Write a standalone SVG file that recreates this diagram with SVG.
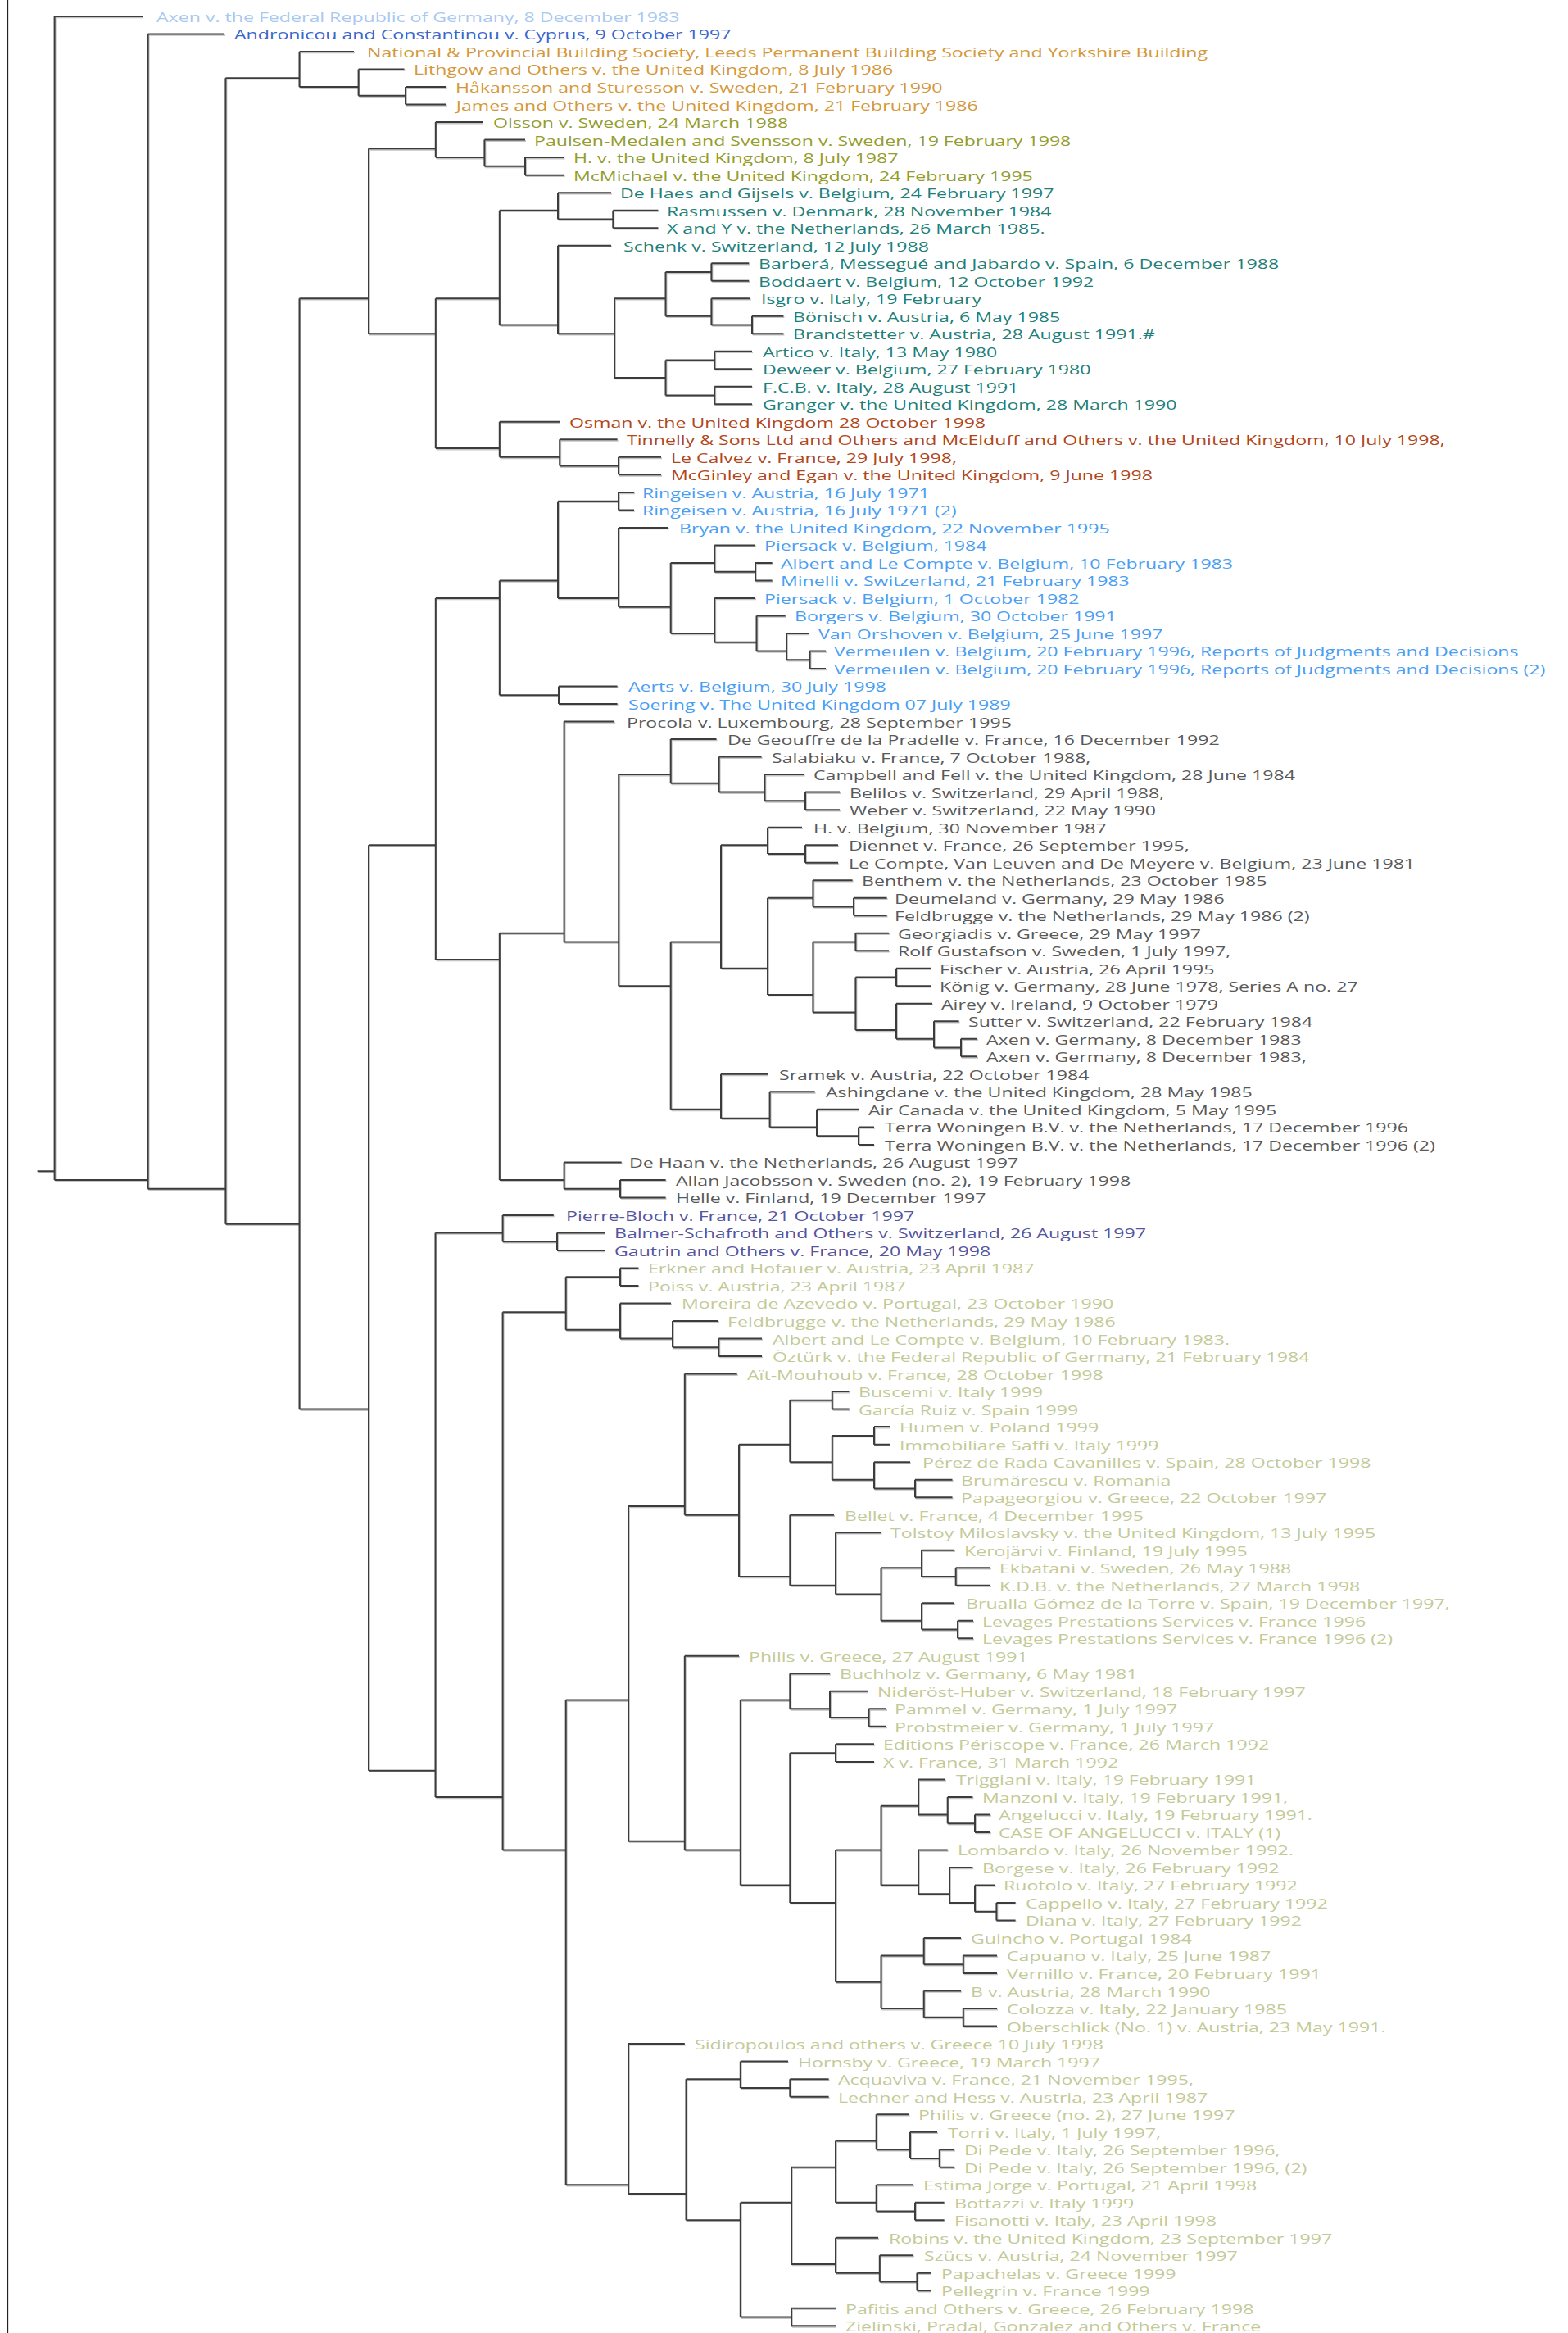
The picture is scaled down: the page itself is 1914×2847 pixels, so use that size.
<svg xmlns="http://www.w3.org/2000/svg" xmlns:xlink="http://www.w3.org/1999/xlink" width="1914" height="2847" viewBox="0 0 1914 2847">
<style>
text{font-family:"Open Sans","Noto Sans","Liberation Sans",sans-serif;font-size:16px;transform:scaleX(1.447);transform-box:fill-box;transform-origin:0 50%}
.e path{fill:none;vector-effect:non-scaling-stroke;stroke-width:2}
.lb{fill:#a9c9f0}.bl{fill:#3b66cc}.or{fill:#d4983a}.ol{fill:#949c2c}.te{fill:#1f7f7a}.rd{fill:#b1461b}.sk{fill:#4a9ef2}.gr{fill:#595959}.pu{fill:#55559e}.lo{fill:#c3ca98}
</style>
<rect width="1914" height="2847" fill="#fff"/>
<line x1="9.5" y1="0" x2="9.5" y2="2847" stroke="#222" stroke-width="1.3"/>
<use xlink:href="#edges" href="#edges" transform="translate(1,1.3)" stroke="#c4c4c4"/>
<g id="connectors" stroke="#3c3c3c">
<g id="edges" class="e" transform="translate(0,20) scale(1,21.514)">
<path d="M45.6,65.5H66.6M66.6,0V66M66.6,0H174M66.6,66H180.6"/>
<path d="M180.6,1V66.5M180.6,1H274M180.6,66.5H275.4"/>
<path d="M275.4,3.5V68.5M275.4,3.5H365.5M275.4,68.5H365.5"/>
<path d="M365.5,2V4M365.5,2H432M365.5,4H437.6"/>
<path d="M437.6,3V4.5M437.6,3H493.5M437.6,4.5H495"/>
<path d="M495,4V5M495,4H544.8M495,5H544.8"/>
<path d="M365.5,16V79M365.5,16H450M365.5,79H450"/>
<path d="M450,7.5V18M450,7.5H531.8M450,18H531.8"/>
<path d="M531.8,6V8M531.8,6H589M531.8,8H591.4"/>
<path d="M591.4,7V8.5M591.4,7H641M591.4,8.5H641"/>
<path d="M641,8V9M641,8H688.6M641,9H688.6"/>
<path d="M531.8,16V24.5M531.8,16H609.8M531.8,24.5H609.8"/>
<path d="M609.8,11V17.5M609.8,11H681M609.8,17.5H681"/>
<path d="M681,10V11.5M681,10H746M681,11.5H748.3"/>
<path d="M748.3,11V12M748.3,11H803.4M748.3,12H803.4"/>
<path d="M681,13V18M681,13H746M681,18H750"/>
<path d="M750,16V20.5M750,16H812.5M750,20.5H812.5"/>
<path d="M812.5,14.5V17M812.5,14.5H868.4M812.5,17H868.4"/>
<path d="M868.4,14V15M868.4,14H914.3M868.4,15H914.3"/>
<path d="M868.4,16V17.5M868.4,16H915.8M868.4,17.5H918"/>
<path d="M918,17V18M918,17H956.4M918,18H956.4"/>
<path d="M812.5,19.5V21.5M812.5,19.5H872.2M812.5,21.5H872.2"/>
<path d="M872.2,19V20M872.2,19H918M872.2,20H918"/>
<path d="M872.2,21V22M872.2,21H918M872.2,22H918"/>
<path d="M609.8,23V25M609.8,23H683M609.8,25H683.2"/>
<path d="M683.2,24V25.5M683.2,24H753.6M683.2,25.5H755"/>
<path d="M755,25V26M755,25H807M755,26H807"/>
<path d="M450,47V99.5M450,47H531.8M450,99.5H531.8"/>
<path d="M531.8,33V53.5M531.8,33H609.8M531.8,53.5H609.8"/>
<path d="M609.8,32V38.5M609.8,32H681M609.8,38.5H682"/>
<path d="M682,38V39M682,38H753.6M682,39H753.6"/>
<path d="M681,27.5V33M681,27.5H755M681,33H755"/>
<path d="M755,27V28M755,27H774M755,28H774"/>
<path d="M755,29V33.5M755,29H816M755,33.5H818.7"/>
<path d="M818.7,31V35M818.7,31H872.2M818.7,35H872.2"/>
<path d="M872.2,30V31.5M872.2,30H922M872.2,31.5H922"/>
<path d="M922,31V32M922,31H942.6M922,32H942.6"/>
<path d="M872.2,33V35.5M872.2,33H922M872.2,35.5H923.5"/>
<path d="M923.5,34V36M923.5,34H958.7M923.5,36H960"/>
<path d="M960,35V36.5M960,35H987M960,36.5H988.5"/>
<path d="M988.5,36V37M988.5,36H1008M988.5,37H1008"/>
<path d="M609.8,52V66M609.8,52H688.6M609.8,66H688.6"/>
<path d="M688.6,65V66.5M688.6,65H758.7M688.6,66.5H757"/>
<path d="M757,66V67M757,66H812.6M757,67H812.6"/>
<path d="M688.6,40V52.5M688.6,40H750M688.6,52.5H755.2"/>
<path d="M755.2,43V55M755.2,43H818.7M755.2,55H818.7"/>
<path d="M818.7,41V43.5M818.7,41H874.5M818.7,43.5H877.6"/>
<path d="M877.6,42V44M877.6,42H929.6M877.6,44H933.4"/>
<path d="M933.4,43V44.5M933.4,43H981.6M933.4,44.5H983"/>
<path d="M983,44V45M983,44H1025M983,45H1025"/>
<path d="M818.7,52.5V62M818.7,52.5H880M818.7,62H880"/>
<path d="M880,47V54M880,47H937M880,54H937"/>
<path d="M937,46V47.5M937,46H979M937,47.5H983"/>
<path d="M983,47V48M983,47H1023M983,48H1023"/>
<path d="M937,50V55.5M937,50H992.4M937,55.5H992.4"/>
<path d="M992.4,49V50.5M992.4,49H1040.6M992.4,50.5H1042"/>
<path d="M1042,50V51M1042,50H1082.6M1042,51H1082.6"/>
<path d="M992.4,52.5V56.5M992.4,52.5H1044.4M992.4,56.5H1044.4"/>
<path d="M1044.4,52V53M1044.4,52H1085M1044.4,53H1085"/>
<path d="M1044.4,54.5V57.5M1044.4,54.5H1094M1044.4,57.5H1094"/>
<path d="M1094,54V55M1094,54H1136M1094,55H1136"/>
<path d="M1094,56V58M1094,56H1138M1094,58H1140"/>
<path d="M1140,57V58.5M1140,57H1170.6M1140,58.5H1173"/>
<path d="M1173,58V59M1173,58H1193M1173,59H1193"/>
<path d="M880,60V62.5M880,60H937M880,62.5H939.6"/>
<path d="M939.6,61V63M939.6,61H994.6M939.6,63H997"/>
<path d="M997,62V63.5M997,62H1048M997,63.5H1048"/>
<path d="M1048,63V64M1048,63H1067M1048,64H1067"/>
<path d="M531.5,69V101M531.5,69H613.6M531.5,101H613.6"/>
<path d="M613.6,68V69.5M613.6,68H675.8M613.6,69.5H680"/>
<path d="M680,69V70M680,69H738M680,70H738"/>
<path d="M613.6,73.5V104M613.6,73.5H690.7M613.6,104H690.7"/>
<path d="M690.7,71.5V74.5M690.7,71.5H757M690.7,74.5H757"/>
<path d="M757,71V72M757,71H779.4M757,72H779.4"/>
<path d="M757,73V75M757,73H819M757,75H821"/>
<path d="M821,74V75.5M821,74H877M821,75.5H877.3"/>
<path d="M877.3,75V76M877.3,75H930M877.3,76H930"/>
<path d="M690.7,95.5V123M690.7,95.5H767M690.7,123H767"/>
<path d="M767,84.5V103.5M767,84.5H835.8M767,103.5H835.8"/>
<path d="M835.8,77V85M835.8,77H899.7M835.8,85H902"/>
<path d="M902,81V88.5M902,81H964.3M902,88.5H964.3"/>
<path d="M964.3,78.5V82M964.3,78.5H1015.8M964.3,82H1015.8"/>
<path d="M1015.8,78V79M1015.8,78H1036.5M1015.8,79H1036.5"/>
<path d="M1015.8,80.5V83M1015.8,80.5H1067M1015.8,83H1067"/>
<path d="M1067,80V81M1067,80H1086M1067,81H1086"/>
<path d="M1067,82V83.5M1067,82H1111M1067,83.5H1117"/>
<path d="M1117,83V84M1117,83H1162.5M1117,84H1162.5"/>
<path d="M964.3,85V89M964.3,85H1018M964.3,89H1020"/>
<path d="M1020,86V89.5M1020,86H1075.5M1020,89.5H1075.5"/>
<path d="M1075.5,88V91M1075.5,88H1125M1075.5,91H1125"/>
<path d="M1125,87V88.5M1125,87H1165M1125,88.5H1166.7"/>
<path d="M1166.7,88V89M1166.7,88H1209M1166.7,89H1209"/>
<path d="M1125,90V91.5M1125,90H1165M1125,91.5H1169"/>
<path d="M1169,91V92M1169,91H1188M1169,92H1188"/>
<path d="M835.8,93V104M835.8,93H902M835.8,104H903.8"/>
<path d="M903.8,95.5V106M903.8,95.5H964.3M903.8,106H964.3"/>
<path d="M964.3,94V96M964.3,94H1013M964.3,96H1013"/>
<path d="M1013,95V96.5M1013,95H1059M1013,96.5H1060.5"/>
<path d="M1060.5,96V97M1060.5,96H1082M1060.5,97H1082"/>
<path d="M964.3,98.5V107M964.3,98.5H1020M964.3,107H1020"/>
<path d="M1020,98V99M1020,98H1067M1020,99H1067"/>
<path d="M1020,104V111.5M1020,104H1075.5M1020,111.5H1075.5"/>
<path d="M1075.5,101.5V106M1075.5,101.5H1121M1075.5,106H1121"/>
<path d="M1121,100V102M1121,100H1154M1121,102H1156.7"/>
<path d="M1156.7,101V102.5M1156.7,101H1187.4M1156.7,102.5H1190"/>
<path d="M1190,102V103M1190,102H1209M1190,103H1209"/>
<path d="M1121,104V106.5M1121,104H1156.7M1121,106.5H1159"/>
<path d="M1159,105V107M1159,105H1187.4M1159,107H1190"/>
<path d="M1190,106V107.5M1190,106H1214.8M1190,107.5H1216.4"/>
<path d="M1216.4,107V108M1216.4,107H1239.6M1216.4,108H1239.6"/>
<path d="M1075.5,110V113M1075.5,110H1127.7M1075.5,113H1127.7"/>
<path d="M1127.7,109V110.5M1127.7,109H1173M1127.7,110.5H1175.8"/>
<path d="M1175.8,110V111M1175.8,110H1217M1175.8,111H1217"/>
<path d="M1127.7,112V113.5M1127.7,112H1173M1127.7,113.5H1175.8"/>
<path d="M1175.8,113V114M1175.8,113H1217M1175.8,114H1217"/>
<path d="M767,115V123.5M767,115H835.8M767,123.5H837.5"/>
<path d="M837.5,117V125M837.5,117H903.8M837.5,125H903.8"/>
<path d="M903.8,116V117.5M903.8,116H962M903.8,117.5H964.3"/>
<path d="M964.3,117V118M964.3,117H1011.6M964.3,118H1011.6"/>
<path d="M903.8,124V130.5M903.8,124H966M903.8,130.5H966"/>
<path d="M966,130V131M966,130H1020M966,131H1020"/>
<path d="M966,122V127.5M966,122H1020M966,127.5H1020"/>
<path d="M1020,120.5V124M1020,120.5H1069.7M1020,124H1069.7"/>
<path d="M1069.7,119V121M1069.7,119H1109.5M1069.7,121H1111"/>
<path d="M1111,120V121.5M1111,120H1144M1111,121.5H1146.8"/>
<path d="M1146.8,121V122M1146.8,121H1165M1146.8,122H1165"/>
<path d="M1069.7,123V124.5M1069.7,123H1115M1069.7,124.5H1117"/>
<path d="M1117,124V125M1117,124H1152.6M1117,125H1152.6"/>
<path d="M1020,126V128M1020,126H1072M1020,128H1073.8"/>
<path d="M1073.8,127V128.5M1073.8,127H1115M1073.8,128.5H1119.4"/>
<path d="M1119.4,128V129M1119.4,128H1136M1119.4,129H1136"/>
</g>
</g>
<g id="labels" transform="translate(0,7)">
<g id="n0" class="lb"><text x="191" y="20">Axen v. the Federal Republic of Germany, 8 December 1983</text></g>
<g id="n1" class="bl"><text x="286" y="41.5">Andronicou and Constantinou v. Cyprus, 9 October 1997</text></g>
<g id="n2" class="or"><text x="448" y="63">National &amp; Provincial Building Society, Leeds Permanent Building Society and Yorkshire Building</text></g>
<g id="n3" class="or"><text x="505" y="84.5">Lithgow and Others v. the United Kingdom, 8 July 1986</text></g>
<g id="n4" class="or"><text x="556" y="106.1">Håkansson and Sturesson v. Sweden, 21 February 1990</text></g>
<g id="n5" class="or"><text x="556" y="127.6">James and Others v. the United Kingdom, 21 February 1986</text></g>
<g id="n6" class="ol"><text x="602" y="149.1">Olsson v. Sweden, 24 March 1988</text></g>
<g id="n7" class="ol"><text x="652" y="170.6">Paulsen-Medalen and Svensson v. Sweden, 19 February 1998</text></g>
<g id="n8" class="ol"><text x="700" y="192.1">H. v. the United Kingdom, 8 July 1987</text></g>
<g id="n9" class="ol"><text x="700" y="213.6">McMichael v. the United Kingdom, 24 February 1995</text></g>
<g id="n10" class="te"><text x="757" y="235.1">De Haes and Gijsels v. Belgium, 24 February 1997</text></g>
<g id="n11" class="te"><text x="814" y="256.7">Rasmussen v. Denmark, 28 November 1984</text></g>
<g id="n12" class="te"><text x="814" y="278.2">X and Y v. the Netherlands, 26 March 1985.</text></g>
<g id="n13" class="te"><text x="761" y="299.7">Schenk v. Switzerland, 12 July 1988</text></g>
<g id="n14" class="te"><text x="926" y="321.2">Barberá, Messegué and Jabardo v. Spain, 6 December 1988</text></g>
<g id="n15" class="te"><text x="926" y="342.7">Boddaert v. Belgium, 12 October 1992</text></g>
<g id="n16" class="te"><text x="929" y="364.2">Isgro v. Italy, 19 February</text></g>
<g id="n17" class="te"><text x="968" y="385.7">Bönisch v. Austria, 6 May 1985</text></g>
<g id="n18" class="te"><text x="968" y="407.3">Brandstetter v. Austria, 28 August 1991.#</text></g>
<g id="n19" class="te"><text x="931" y="428.8">Artico v. Italy, 13 May 1980</text></g>
<g id="n20" class="te"><text x="931" y="450.3">Deweer v. Belgium, 27 February 1980</text></g>
<g id="n21" class="te"><text x="931" y="471.8">F.C.B. v. Italy, 28 August 1991</text></g>
<g id="n22" class="te"><text x="931" y="493.3">Granger v. the United Kingdom, 28 March 1990</text></g>
<g id="n23" class="rd"><text x="695" y="514.8">Osman v. the United Kingdom 28 October 1998</text></g>
<g id="n24" class="rd"><text x="765" y="536.3">Tinnelly &amp; Sons Ltd and Others and McElduff and Others v. the United Kingdom, 10 July 1998,</text></g>
<g id="n25" class="rd"><text x="819" y="557.9">Le Calvez v. France, 29 July 1998,</text></g>
<g id="n26" class="rd"><text x="819" y="579.4">McGinley and Egan v. the United Kingdom, 9 June 1998</text></g>
<g id="n27" class="sk"><text x="784" y="600.9">Ringeisen v. Austria, 16 July 1971</text></g>
<g id="n28" class="sk"><text x="784" y="622.4">Ringeisen v. Austria, 16 July 1971 (2)</text></g>
<g id="n29" class="sk"><text x="829" y="643.9">Bryan v. the United Kingdom, 22 November 1995</text></g>
<g id="n30" class="sk"><text x="933" y="665.4">Piersack v. Belgium, 1984</text></g>
<g id="n31" class="sk"><text x="953" y="686.9">Albert and Le Compte v. Belgium, 10 February 1983</text></g>
<g id="n32" class="sk"><text x="953" y="708.4">Minelli v. Switzerland, 21 February 1983</text></g>
<g id="n33" class="sk"><text x="933" y="730">Piersack v. Belgium, 1 October 1982</text></g>
<g id="n34" class="sk"><text x="970" y="751.5">Borgers v. Belgium, 30 October 1991</text></g>
<g id="n35" class="sk"><text x="999" y="773">Van Orshoven v. Belgium, 25 June 1997</text></g>
<g id="n36" class="sk"><text x="1018" y="794.5">Vermeulen v. Belgium, 20 February 1996, Reports of Judgments and Decisions</text></g>
<g id="n37" class="sk"><text x="1018" y="816">Vermeulen v. Belgium, 20 February 1996, Reports of Judgments and Decisions (2)</text></g>
<g id="n38" class="sk"><text x="767" y="837.5">Aerts v. Belgium, 30 July 1998</text></g>
<g id="n39" class="sk"><text x="767" y="859">Soering v. The United Kingdom 07 July 1989</text></g>
<g id="n40" class="gr"><text x="765" y="880.6">Procola v. Luxembourg, 28 September 1995</text></g>
<g id="n41" class="gr"><text x="888" y="902.1">De Geouffre de la Pradelle v. France, 16 December 1992</text></g>
<g id="n42" class="gr"><text x="942" y="923.6">Salabiaku v. France, 7 October 1988,</text></g>
<g id="n43" class="gr"><text x="993" y="945.1">Campbell and Fell v. the United Kingdom, 28 June 1984</text></g>
<g id="n44" class="gr"><text x="1037" y="966.6">Belilos v. Switzerland, 29 April 1988,</text></g>
<g id="n45" class="gr"><text x="1037" y="988.1">Weber v. Switzerland, 22 May 1990</text></g>
<g id="n46" class="gr"><text x="993" y="1009.6">H. v. Belgium, 30 November 1987</text></g>
<g id="n47" class="gr"><text x="1036" y="1031.2">Diennet v. France, 26 September 1995,</text></g>
<g id="n48" class="gr"><text x="1036" y="1052.7">Le Compte, Van Leuven and De Meyere v. Belgium, 23 June 1981</text></g>
<g id="n49" class="gr"><text x="1052" y="1074.2">Benthem v. the Netherlands, 23 October 1985</text></g>
<g id="n50" class="gr"><text x="1092" y="1095.7">Deumeland v. Germany, 29 May 1986</text></g>
<g id="n51" class="gr"><text x="1092" y="1117.2">Feldbrugge v. the Netherlands, 29 May 1986 (2)</text></g>
<g id="n52" class="gr"><text x="1096" y="1138.7">Georgiadis v. Greece, 29 May 1997</text></g>
<g id="n53" class="gr"><text x="1096" y="1160.2">Rolf Gustafson v. Sweden, 1 July 1997,</text></g>
<g id="n54" class="gr"><text x="1147" y="1181.8">Fischer v. Austria, 26 April 1995</text></g>
<g id="n55" class="gr"><text x="1147" y="1203.3">König v. Germany, 28 June 1978, Series A no. 27</text></g>
<g id="n56" class="gr"><text x="1149" y="1224.8">Airey v. Ireland, 9 October 1979</text></g>
<g id="n57" class="gr"><text x="1182" y="1246.3">Sutter v. Switzerland, 22 February 1984</text></g>
<g id="n58" class="gr"><text x="1204" y="1267.8">Axen v. Germany, 8 December 1983</text></g>
<g id="n59" class="gr"><text x="1204" y="1289.3">Axen v. Germany, 8 December 1983,</text></g>
<g id="n60" class="gr"><text x="951" y="1310.8">Sramek v. Austria, 22 October 1984</text></g>
<g id="n61" class="gr"><text x="1008" y="1332.4">Ashingdane v. the United Kingdom, 28 May 1985</text></g>
<g id="n62" class="gr"><text x="1060" y="1353.9">Air Canada v. the United Kingdom, 5 May 1995</text></g>
<g id="n63" class="gr"><text x="1080" y="1375.4">Terra Woningen B.V. v. the Netherlands, 17 December 1996</text></g>
<g id="n64" class="gr"><text x="1080" y="1396.9">Terra Woningen B.V. v. the Netherlands, 17 December 1996 (2)</text></g>
<g id="n65" class="gr"><text x="768" y="1418.4">De Haan v. the Netherlands, 26 August 1997</text></g>
<g id="n66" class="gr"><text x="825" y="1439.9">Allan Jacobsson v. Sweden (no. 2), 19 February 1998</text></g>
<g id="n67" class="gr"><text x="825" y="1461.4">Helle v. Finland, 19 December 1997</text></g>
<g id="n68" class="pu"><text x="691" y="1483">Pierre-Bloch v. France, 21 October 1997</text></g>
<g id="n69" class="pu"><text x="750" y="1504.5">Balmer-Schafroth and Others v. Switzerland, 26 August 1997</text></g>
<g id="n70" class="pu"><text x="750" y="1526">Gautrin and Others v. France, 20 May 1998</text></g>
<g id="n71" class="lo"><text x="791" y="1547.5">Erkner and Hofauer v. Austria, 23 April 1987</text></g>
<g id="n72" class="lo"><text x="791" y="1569">Poiss v. Austria, 23 April 1987</text></g>
<g id="n73" class="lo"><text x="832" y="1590.5">Moreira de Azevedo v. Portugal, 23 October 1990</text></g>
<g id="n74" class="lo"><text x="888" y="1612">Feldbrugge v. the Netherlands, 29 May 1986</text></g>
<g id="n75" class="lo"><text x="943" y="1633.6">Albert and Le Compte v. Belgium, 10 February 1983.</text></g>
<g id="n76" class="lo"><text x="943" y="1655.1">Öztürk v. the Federal Republic of Germany, 21 February 1984</text></g>
<g id="n77" class="lo"><text x="912" y="1676.6">Aït-Mouhoub v. France, 28 October 1998</text></g>
<g id="n78" class="lo"><text x="1048" y="1698.1">Buscemi v. Italy 1999</text></g>
<g id="n79" class="lo"><text x="1048" y="1719.6">García Ruiz v. Spain 1999</text></g>
<g id="n80" class="lo"><text x="1098" y="1741.1">Humen v. Poland 1999</text></g>
<g id="n81" class="lo"><text x="1098" y="1762.6">Immobiliare Saffi v. Italy 1999</text></g>
<g id="n82" class="lo"><text x="1126" y="1784.1">Pérez de Rada Cavanilles v. Spain, 28 October 1998</text></g>
<g id="n83" class="lo"><text x="1173" y="1805.7">Brumărescu v. Romania</text></g>
<g id="n84" class="lo"><text x="1173" y="1827.2">Papageorgiou v. Greece, 22 October 1997</text></g>
<g id="n85" class="lo"><text x="1031" y="1848.7">Bellet v. France, 4 December 1995</text></g>
<g id="n86" class="lo"><text x="1087" y="1870.2">Tolstoy Miloslavsky v. the United Kingdom, 13 July 1995</text></g>
<g id="n87" class="lo"><text x="1177" y="1891.7">Kerojärvi v. Finland, 19 July 1995</text></g>
<g id="n88" class="lo"><text x="1220" y="1913.2">Ekbatani v. Sweden, 26 May 1988</text></g>
<g id="n89" class="lo"><text x="1220" y="1934.7">K.D.B. v. the Netherlands, 27 March 1998</text></g>
<g id="n90" class="lo"><text x="1179" y="1956.3">Brualla Gómez de la Torre v. Spain, 19 December 1997,</text></g>
<g id="n91" class="lo"><text x="1199" y="1977.8">Levages Prestations Services v. France 1996</text></g>
<g id="n92" class="lo"><text x="1199" y="1999.3">Levages Prestations Services v. France 1996 (2)</text></g>
<g id="n93" class="lo"><text x="914" y="2020.8">Philis v. Greece, 27 August 1991</text></g>
<g id="n94" class="lo"><text x="1025" y="2042.3">Buchholz v. Germany, 6 May 1981</text></g>
<g id="n95" class="lo"><text x="1071" y="2063.8">Nideröst-Huber v. Switzerland, 18 February 1997</text></g>
<g id="n96" class="lo"><text x="1092" y="2085.3">Pammel v. Germany, 1 July 1997</text></g>
<g id="n97" class="lo"><text x="1092" y="2106.9">Probstmeier v. Germany, 1 July 1997</text></g>
<g id="n98" class="lo"><text x="1078" y="2128.4">Editions Périscope v. France, 26 March 1992</text></g>
<g id="n99" class="lo"><text x="1078" y="2149.9">X v. France, 31 March 1992</text></g>
<g id="n100" class="lo"><text x="1167" y="2171.4">Triggiani v. Italy, 19 February 1991</text></g>
<g id="n101" class="lo"><text x="1199" y="2192.9">Manzoni v. Italy, 19 February 1991,</text></g>
<g id="n102" class="lo"><text x="1219" y="2214.4">Angelucci v. Italy, 19 February 1991.</text></g>
<g id="n103" class="lo"><text x="1219" y="2235.9">CASE OF ANGELUCCI v. ITALY (1)</text></g>
<g id="n104" class="lo"><text x="1169" y="2257.5">Lombardo v. Italy, 26 November 1992.</text></g>
<g id="n105" class="lo"><text x="1199" y="2279">Borgese v. Italy, 26 February 1992</text></g>
<g id="n106" class="lo"><text x="1225" y="2300.5">Ruotolo v. Italy, 27 February 1992</text></g>
<g id="n107" class="lo"><text x="1252" y="2322">Cappello v. Italy, 27 February 1992</text></g>
<g id="n108" class="lo"><text x="1252" y="2343.5">Diana v. Italy, 27 February 1992</text></g>
<g id="n109" class="lo"><text x="1185" y="2365">Guincho v. Portugal 1984</text></g>
<g id="n110" class="lo"><text x="1229" y="2386.5">Capuano v. Italy, 25 June 1987</text></g>
<g id="n111" class="lo"><text x="1229" y="2408.1">Vernillo v. France, 20 February 1991</text></g>
<g id="n112" class="lo"><text x="1185" y="2429.6">B v. Austria, 28 March 1990</text></g>
<g id="n113" class="lo"><text x="1229" y="2451.1">Colozza v. Italy, 22 January 1985</text></g>
<g id="n114" class="lo"><text x="1229" y="2472.6">Oberschlick (No. 1) v. Austria, 23 May 1991.</text></g>
<g id="n115" class="lo"><text x="848" y="2494.1">Sidiropoulos and others v. Greece 10 July 1998</text></g>
<g id="n116" class="lo"><text x="974" y="2515.6">Hornsby v. Greece, 19 March 1997</text></g>
<g id="n117" class="lo"><text x="1023" y="2537.1">Acquaviva v. France, 21 November 1995,</text></g>
<g id="n118" class="lo"><text x="1023" y="2558.7">Lechner and Hess v. Austria, 23 April 1987</text></g>
<g id="n119" class="lo"><text x="1121" y="2580.2">Philis v. Greece (no. 2), 27 June 1997</text></g>
<g id="n120" class="lo"><text x="1157" y="2601.7">Torri v. Italy, 1 July 1997,</text></g>
<g id="n121" class="lo"><text x="1177" y="2623.2">Di Pede v. Italy, 26 September 1996,</text></g>
<g id="n122" class="lo"><text x="1177" y="2644.7">Di Pede v. Italy, 26 September 1996, (2)</text></g>
<g id="n123" class="lo"><text x="1127" y="2666.2">Estima Jorge v. Portugal, 21 April 1998</text></g>
<g id="n124" class="lo"><text x="1165" y="2687.7">Bottazzi v. Italy 1999</text></g>
<g id="n125" class="lo"><text x="1165" y="2709.3">Fisanotti v. Italy, 23 April 1998</text></g>
<g id="n126" class="lo"><text x="1085" y="2730.8">Robins v. the United Kingdom, 23 September 1997</text></g>
<g id="n127" class="lo"><text x="1128" y="2752.3">Szücs v. Austria, 24 November 1997</text></g>
<g id="n128" class="lo"><text x="1149" y="2773.8">Papachelas v. Greece  1999</text></g>
<g id="n129" class="lo"><text x="1149" y="2795.3">Pellegrin v. France  1999</text></g>
<g id="n130" class="lo"><text x="1032" y="2816.8">Pafitis and Others v. Greece, 26 February 1998</text></g>
<g id="n131" class="lo"><text x="1032" y="2838.3">Zielinski, Pradal, Gonzalez and Others v. France</text></g>
</g>
</svg>
